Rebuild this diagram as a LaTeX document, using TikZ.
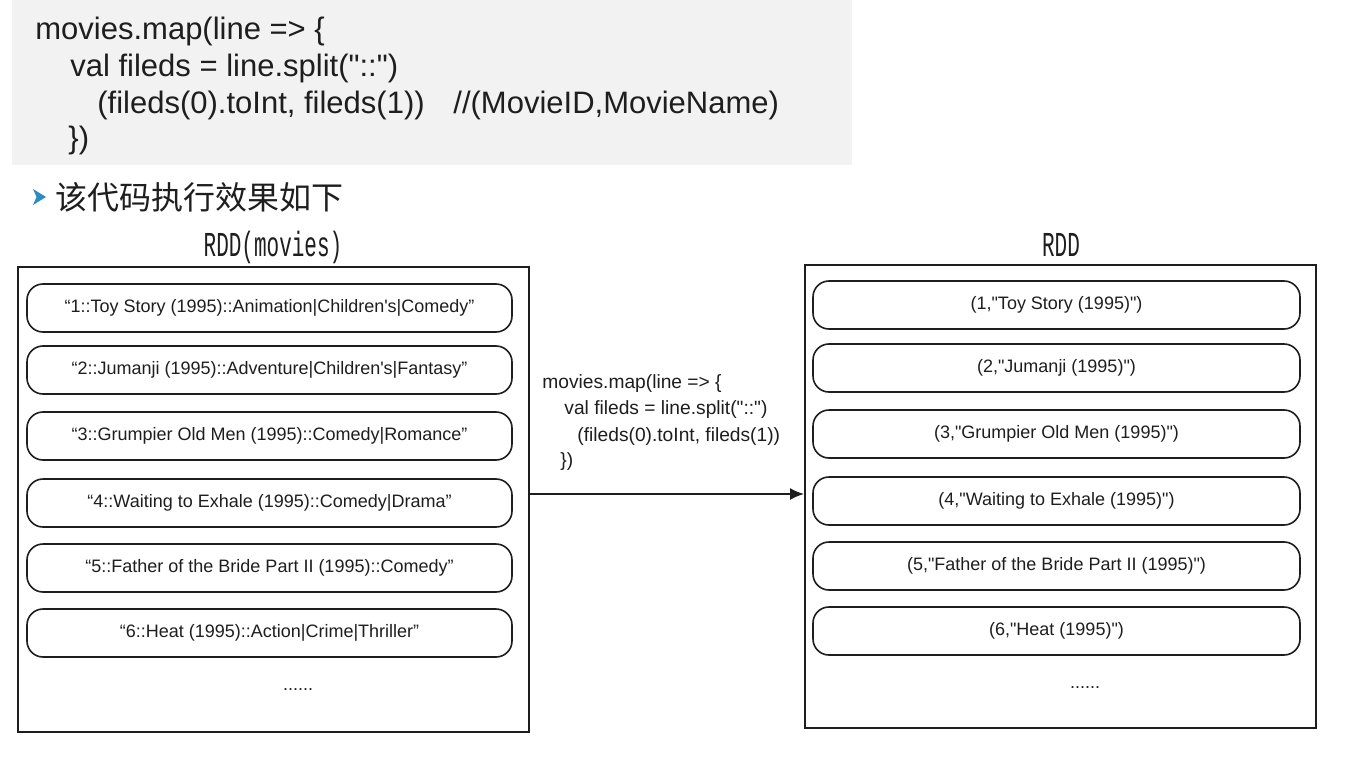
\documentclass[tikz,border=0pt]{standalone}
\usepackage{fontspec}
\setmainfont{Liberation Sans}
\newfontfamily\plainfont{Liberation Sans}
\newfontfamily\cjk{Noto Sans CJK SC}
\newfontfamily\rddfont[FakeStretch=0.6]{Liberation Mono}
\usetikzlibrary{arrows.meta}
\definecolor{codebg}{HTML}{F2F2F2}
\definecolor{ink}{HTML}{1E1E1E}
\definecolor{bullet}{HTML}{2B8CC4}
\tikzset{
  codeline/.style={anchor=west,inner sep=0pt,font=\plainfont\fontsize{15.5pt}{18pt}\selectfont,text=ink},
  midline/.style={anchor=west,inner sep=0pt,font=\plainfont\fontsize{9.6pt}{12pt}\selectfont,text=ink},
  outerbox/.style={draw=ink,line width=1pt},
  item/.style={draw=ink,line width=0.8pt,rounded corners=8pt,minimum height=24pt,inner sep=0pt,
    font=\plainfont\fontsize{9pt}{11pt}\selectfont,text=ink},
  litem/.style={item,minimum width=242.5pt},
  ritem/.style={item,minimum width=243.5pt},
  dots/.style={font=\plainfont\fontsize{9pt}{11pt}\selectfont,text=ink,inner sep=0pt},
  rddlabel/.style={font=\rddfont\fontsize{17.5pt}{20pt}\selectfont,text=ink,inner sep=0pt},
  conn/.style={draw=ink,line width=0.8pt,-{Latex[length=7pt,width=6pt]}}
}
\begin{document}
\begin{tikzpicture}[x=0.5pt,y=-0.5pt]
\useasboundingbox (0,0) rectangle (1356,760);
\fill[white] (0,0) rectangle (1356,760);
% code block
\fill[codebg] (12,0) rectangle (852,165);
\node[codeline] (c1) at (35,31) {movies.map(line => \{};
\node[codeline] (c2) at (70,68) {val fileds = line.split("::")};
\node[codeline] (c3) at (97,105) {(fileds(0).toInt, fileds(1))};
\node[codeline] (c4) at (453,105) {//(MovieID,MovieName)};
\node[codeline] (c5) at (68,140) {\})};
% bullet
\fill[bullet] (33,189) -- (46,197) -- (33,205) -- (36.5,197) -- cycle;
\node[anchor=west,inner sep=0pt,font=\cjk\fontsize{16pt}{18pt}\selectfont,text=ink] (head) at (55,197) {该代码执行效果如下};
% labels
\node[rddlabel] (lt) at (273,247) {RDD(movies)};
\node[rddlabel] (rt) at (1061,245) {RDD};
% outer boxes
\draw[outerbox] (18,267) rectangle (529,732);
\draw[outerbox] (805,265) rectangle (1316,728);
\coordinate (lmid) at (529,494);
\coordinate (rmid) at (804,494);
% left items
\node[litem] (l1) at (269.5,308) {“1::Toy Story (1995)::Animation|Children's|Comedy”};
\node[litem] (l2) at (269.5,370) {“2::Jumanji (1995)::Adventure|Children's|Fantasy”};
\node[litem] (l3) at (269.5,436) {“3::Grumpier Old Men (1995)::Comedy|Romance”};
\node[litem] (l4) at (269.5,503) {“4::Waiting to Exhale (1995)::Comedy|Drama”};
\node[litem] (l5) at (269.5,568) {“5::Father of the Bride Part II (1995)::Comedy”};
\node[litem] (l6) at (269.5,633) {“6::Heat (1995)::Action|Crime|Thriller”};
\node[dots] (ld) at (298,690) {......};
% right items
\node[ritem] (r1) at (1056.5,305) {(1,"Toy Story (1995)")};
\node[ritem] (r2) at (1056.5,368) {(2,"Jumanji (1995)")};
\node[ritem] (r3) at (1056.5,434) {(3,"Grumpier Old Men (1995)")};
\node[ritem] (r4) at (1056.5,501) {(4,"Waiting to Exhale (1995)")};
\node[ritem] (r5) at (1056.5,566) {(5,"Father of the Bride Part II (1995)")};
\node[ritem] (r6) at (1056.5,631) {(6,"Heat (1995)")};
\node[dots] (rd) at (1085,688) {......};
% middle code
\node[midline] (m1) at (542,384) {movies.map(line => \{};
\node[midline] (m2) at (564,410) {val fileds = line.split("::")};
\node[midline] (m3) at (577,437) {(fileds(0).toInt, fileds(1))};
\node[midline] (m4) at (560,462) {\})};
% arrow
\draw[conn] (lmid) -- (rmid);
\end{tikzpicture}
\end{document}
